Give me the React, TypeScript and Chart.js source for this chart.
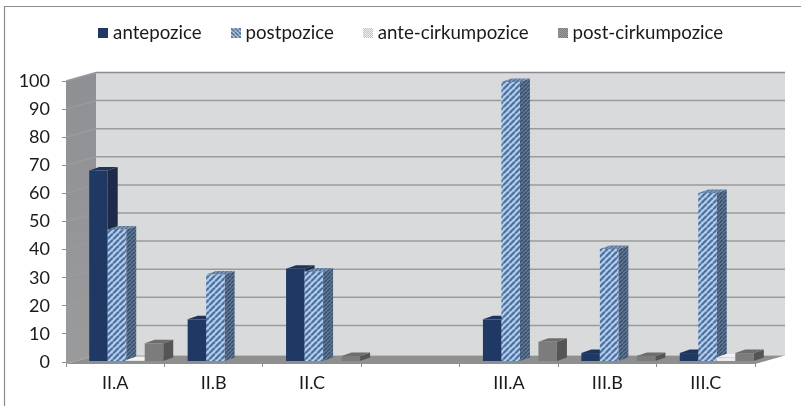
import React, { useEffect, useRef } from "react";
import { Chart, registerables } from "chart.js";

Chart.register(...registerables);

const categories = ["II.A", "II.B", "II.C", "", "III.A", "III.B", "III.C"];
const antepozice = [68, 15, 33, null, 15, 3, 3];
const postpozice = [47, 31, 32, null, 99.5, 40, 60];
const anteCirkumpozice = [0.5, 0, 0, null, 0, 0, 1.5];
const postCirkumpozice = [6.5, 0, 2, null, 7, 2, 3];
const yTicks = [0, 10, 20, 30, 40, 50, 60, 70, 80, 90, 100];
const FONT = "Lato";

function stripes(bg: string, fg: string, size: number, w: number, flip: boolean) {
  const c = document.createElement("canvas");
  c.width = size;
  c.height = size;
  const x = c.getContext("2d")!;
  x.fillStyle = bg;
  x.fillRect(0, 0, size, size);
  x.strokeStyle = fg;
  x.lineWidth = w;
  if (flip) {
    x.translate(size, 0);
    x.scale(-1, 1);
  }
  for (let o = -size; o <= size; o += size) {
    x.beginPath();
    x.moveTo(o, size);
    x.lineTo(o + size, 0);
    x.stroke();
  }
  return x.createPattern(c, "repeat")!;
}

function dots(bg: string, fg: string, size: number) {
  const c = document.createElement("canvas");
  c.width = size;
  c.height = size;
  const x = c.getContext("2d")!;
  x.fillStyle = bg;
  x.fillRect(0, 0, size, size);
  x.fillStyle = fg;
  x.fillRect(0, 0, size / 2, size / 2);
  x.fillRect(size / 2, size / 2, size / 2, size / 2);
  return x.createPattern(c, "repeat")!;
}

function swatch(fill: any) {
  const c = document.createElement("canvas");
  c.width = 10;
  c.height = 10;
  const x = c.getContext("2d")!;
  x.fillStyle = fill;
  x.fillRect(0, 0, 10, 10);
  return c;
}

export default function App() {
  const ref = useRef<HTMLCanvasElement>(null);

  useEffect(() => {
    document.body.style.margin = "0";
    const faces = [
      { side: "#1d2b48", top: "#1e3359", legend: swatch("#1f3864") },
      {
        side: stripes("#7489a5", "#324a69", 4, 1.7, false),
        top: stripes("#8fa9c6", "#4f6c90", 4, 1.6, false),
        legend: swatch(stripes("#cfdbea", "#4a6a94", 4, 1.6, true)),
      },
      { side: "#ffffff", top: "#f2f2f2", legend: swatch(dots("#ffffff", "#b5b5b5", 2)) },
      { side: "#555555", top: "#6d6d6d", legend: swatch(dots("#b5b5b5", "#666666", 2)) },
    ];

    const scene = {
      id: "scene",
      beforeLayout(chart: any) {
        const lg = chart.legend;
        if (lg && !lg.__wrapped) {
          const fit = lg.fit;
          lg.fit = function () {
            fit.call(this);
            this.height = 81;
          };
          lg.__wrapped = true;
        }
      },
      afterLayout(chart: any) {
        chart.legend.top -= 10;
        chart.legend.right += 5;
      },
      beforeDatasetsDraw(chart: any) {
        const { ctx, chartArea: a, scales } = chart;
        const dx = 30;
        const dy = 8.5;
        const fy = a.bottom + 2;
        ctx.save();
        ctx.fillStyle = "#d9dadc";
        ctx.fillRect(a.left + dx, a.top - dy, a.right - a.left, fy - a.top);
        const wall = ctx.createLinearGradient(0, a.top, 0, fy);
        wall.addColorStop(0, "#8e9094");
        wall.addColorStop(1, "#9a9b9d");
        ctx.fillStyle = wall;
        ctx.beginPath();
        ctx.moveTo(a.left, a.top);
        ctx.lineTo(a.left + dx, a.top - dy);
        ctx.lineTo(a.left + dx, fy - dy);
        ctx.lineTo(a.left, fy);
        ctx.closePath();
        ctx.fill();
        ctx.lineWidth = 1.5;
        for (const t of yTicks) {
          if (t === 0) continue;
          const y = scales.y.getPixelForValue(t);
          ctx.strokeStyle = "#9a9b9e";
          ctx.beginPath();
          ctx.moveTo(a.left, y);
          ctx.lineTo(a.left + dx, y - dy);
          ctx.stroke();
          ctx.strokeStyle = t === 100 ? "#8a8b8e" : "#9a9b9e";
          ctx.beginPath();
          ctx.moveTo(a.left + dx, y - dy);
          ctx.lineTo(a.right + dx, y - dy);
          ctx.stroke();
        }
        ctx.fillStyle = "#8f8f8f";
        ctx.beginPath();
        ctx.moveTo(a.left, fy);
        ctx.lineTo(a.left + dx, fy - dy);
        ctx.lineTo(a.right + dx, fy - dy);
        ctx.lineTo(a.right, fy);
        ctx.closePath();
        ctx.fill();

        ctx.translate(11, -0.5);
        const sideW = 10;
        const rise = 3.5;
        chart.getSortedVisibleDatasetMetas().forEach((meta: any) => {
          const f = faces[meta.index];
          const values = chart.data.datasets[meta.index].data;
          meta.data.forEach((el: any, i: number) => {
            const v = values[i];
            if (!v) return;
            const l = el.x - el.width / 2;
            const r = el.x + el.width / 2;
            ctx.fillStyle = f.side;
            ctx.beginPath();
            ctx.moveTo(r, el.y);
            ctx.lineTo(r + sideW, el.y - rise);
            ctx.lineTo(r + sideW, el.base - rise);
            ctx.lineTo(r, el.base);
            ctx.closePath();
            ctx.fill();
            ctx.fillStyle = f.top;
            ctx.beginPath();
            ctx.moveTo(l, el.y);
            ctx.lineTo(l + sideW, el.y - rise);
            ctx.lineTo(r + sideW, el.y - rise);
            ctx.lineTo(r, el.y);
            ctx.closePath();
            ctx.fill();
            el.draw(ctx);
          });
        });
        ctx.restore();
        return false;
      },
      afterDraw(chart: any) {
        const { ctx, width, height } = chart;
        ctx.save();
        ctx.strokeStyle = "#8c8c8c";
        ctx.lineWidth = 1.2;
        ctx.beginPath();
        ctx.moveTo(4.5, height);
        ctx.lineTo(4.5, 6.5);
        ctx.lineTo(width, 6.5);
        ctx.stroke();
        ctx.restore();
      },
    };

    const chart = new Chart(ref.current!, {
      type: "bar",
      data: {
        labels: categories,
        datasets: [
          { label: "antepozice", data: antepozice, backgroundColor: "#1f3864" },
          { label: "postpozice", data: postpozice, backgroundColor: stripes("#b7d5f0", "#47689a", 6, 2.2, false) },
          { label: "ante-cirkumpozice", data: anteCirkumpozice, backgroundColor: dots("#ffffff", "#d8d8d8", 2) },
          { label: "post-cirkumpozice", data: postCirkumpozice, backgroundColor: dots("#9c9c9c", "#5c5c5c", 2) },
        ],
      },
      plugins: [scene],
      options: {
        responsive: false,
        animation: false,
        layout: { autoPadding: false, padding: { left: 0, top: 0, right: 46, bottom: 0 } },
        datasets: { bar: { barPercentage: 1, categoryPercentage: 0.752, borderWidth: 0 } },
        plugins: {
          tooltip: { enabled: false },
          legend: {
            position: "top",
            fullSize: false,
            labels: {
              usePointStyle: true,
              pointStyleWidth: 1,
              boxHeight: 10,
              padding: 33.5,
              color: "#1a1a1a",
              font: { family: FONT, size: 18.7 },
              generateLabels(c: any) {
                return Chart.defaults.plugins.legend.labels.generateLabels(c).map((it: any, i: number) => ({
                  ...it,
                  pointStyle: faces[i].legend,
                  lineWidth: 0,
                }));
              },
            },
          },
        },
        scales: {
          x: {
            grid: { drawOnChartArea: false, tickLength: 5, color: "#8c8c8c" },
            border: { display: false },
            ticks: { color: "#1a1a1a", font: { family: FONT, size: 18 }, autoSkip: false, maxRotation: 0, padding: 5 },
            afterFit(s: any) {
              s.height = 44;
            },
          },
          y: {
            min: 0,
            max: 100,
            grid: { drawOnChartArea: false, tickLength: 4, color: "#8c8c8c" },
            border: { display: false },
            ticks: { stepSize: 10, color: "#1a1a1a", font: { family: FONT, size: 18 }, padding: 12 },
            afterFit(s: any) {
              s.width = 66;
            },
          },
        },
      } as any,
    });
    return () => chart.destroy();
  }, []);

  return (
    <div style={{ width: 801, height: 406 }}>
      <canvas ref={ref} width={801} height={406} style={{ display: "block" }} />
    </div>
  );
}
